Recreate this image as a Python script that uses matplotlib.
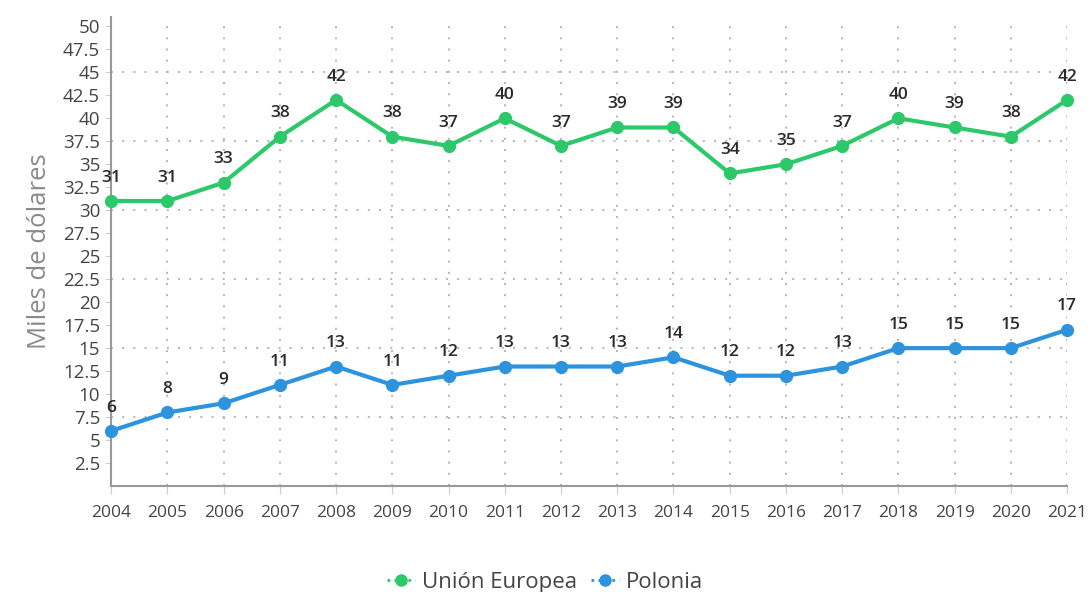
import matplotlib.pyplot as plt
from matplotlib.lines import Line2D

years = list(range(2004, 2022))
ue = [31, 31, 33, 38, 42, 38, 37, 40, 37, 39, 39, 34, 35, 37, 40, 39, 38, 42]
polonia = [6, 8, 9, 11, 13, 11, 12, 13, 13, 13, 14, 12, 12, 13, 15, 15, 15, 17]
yticks = [2.5 * i for i in range(1, 21)]
ygrid = [7.5, 15, 22.5, 30, 37.5, 45]

green = '#2cc86a'
blue = '#2e93dd'

plt.rcParams['font.family'] = ['Open Sans', 'DejaVu Sans']

fig = plt.figure(figsize=(10.9, 5.92), dpi=100)
ax = fig.add_axes([0.102, 0.179, 0.877, 0.792])

ax.set_xlim(2004, 2021)
ax.set_ylim(0, 51)

# grid
for y in ygrid:
    ax.axhline(y, color='#aaaaaa', lw=1.2, ls=(0, (1.2, 5.5)), zorder=0)
for x in years[1:]:
    ax.axvline(x, color='#aaaaaa', lw=1.2, ls=(0, (1.2, 5.5)), zorder=0)

ax.plot(years, ue, color=green, lw=3, marker='o', ms=8.5, clip_on=False, zorder=3)
ax.plot(years, polonia, color=blue, lw=3, marker='o', ms=8.5, clip_on=False, zorder=3)

for x, v in zip(years, ue):
    ax.annotate(str(v), (x, v), xytext=(0, 11), textcoords='offset points',
                ha='center', va='bottom', fontsize=12.5, color='#2a2a2a', fontweight='semibold')
for x, v in zip(years, polonia):
    ax.annotate(str(v), (x, v), xytext=(0, 11), textcoords='offset points',
                ha='center', va='bottom', fontsize=12.5, color='#2a2a2a', fontweight='semibold')

ax.set_xticks(years)
ax.set_xticklabels([str(y) for y in years])
ax.set_yticks(yticks)
ax.set_yticklabels([f'{t:g}' for t in yticks])
ax.tick_params(axis='both', colors='#cccccc', labelcolor='#444444')
ax.tick_params(axis='x', pad=8, length=6, labelsize=12.5)
ax.tick_params(axis='y', pad=4, length=4, labelsize=13.5)

for s in ['top', 'right']:
    ax.spines[s].set_visible(False)
ax.spines['left'].set_color('#999999')
ax.spines['bottom'].set_color('#999999')
ax.spines['left'].set_linewidth(1.5)
ax.spines['bottom'].set_linewidth(1.5)

ax.set_ylabel('Miles de dólares', fontsize=18.5, color='#8a8a8a', labelpad=8)

handles = [Line2D([0], [0], color=green, lw=2, ls=(0, (1, 1.5)), marker='o', ms=8),
           Line2D([0], [0], color=blue, lw=2, ls=(0, (1, 1.5)), marker='o', ms=8)]
fig.legend(handles, ['Unión Europea', 'Polonia'], loc='center', bbox_to_anchor=(0.5, 0.016),
           ncol=2, frameon=False, fontsize=16, handlelength=1.3, handletextpad=0.3,
           columnspacing=0.6, labelcolor='#444444')

fig.savefig('out.png', dpi=100)
